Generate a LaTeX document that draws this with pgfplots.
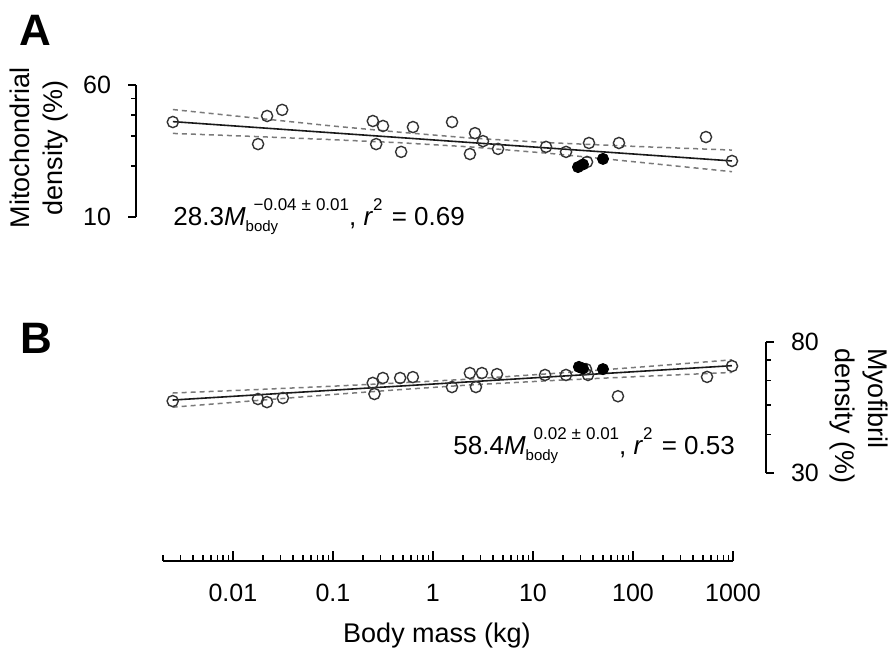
\documentclass[border=0pt]{standalone}
\usepackage{fontspec}
\setmainfont{Liberation Sans}
\usepackage{pgfplots}
\pgfplotsset{compat=1.18}

\definecolor{ptcol}{HTML}{333333}
\definecolor{bandcol}{HTML}{7A7A7A}

\newcommand{\sfs}{\fontsize{7.5}{8}\selectfont}
\newcommand{\supfs}{\fontsize{8.5}{9}\selectfont}
\newcommand{\tickfont}{\fontsize{12.5}{14}\selectfont}
\newcommand{\labfont}{\fontsize{13.5}{16.5}\selectfont}
% M_body with exponent, set by hand so that sub and sup stack as in the figure
\newcommand{\mbody}[1]{\textit{M}\rlap{\raisebox{-3pt}{\sfs body}}\hspace{4pt}\raisebox{7.5pt}{\supfs #1}}

\pgfplotsset{
  fitline/.style={black!90, line width=0.8pt, no marks},
  ciline/.style={bandcol, line width=0.75pt, dash pattern=on 2.5pt off 2pt, no marks},
  openpts/.style={only marks, mark=o, mark size=2.8pt, mark options={draw=ptcol, line width=0.7pt}},
  fillpts/.style={only marks, mark=*, mark size=2.8pt, mark options={draw=black, fill=black}},
}

\begin{document}
\begin{tikzpicture}
\useasboundingbox (0,0) rectangle (445pt,326.5pt);

% panel A: mitochondrial density
\begin{axis}[scale only axis, xmode=log, ymode=log, clip=false,
  at={(68pt,218pt)}, anchor=south west,
  width=298.5pt, height=66pt,
  xmin=0.00107, xmax=1000, ymin=10, ymax=60,
  axis x line=none, axis y line*=left,
  axis line style={-, line width=0.8pt, black},
  tick align=outside, major tick length=4pt, minor tick length=2.5pt,
  tick style={black, line width=0.8pt},
  ytick={10,60}, yticklabels={10,60}, minor ytick={20,30,40,50},
  yticklabel style={xshift=-5pt, font=\tickfont},
  ylabel={Mitochondrial\\density (\%)},
  ylabel style={align=center, font=\labfont, at={(axis description cs:-0.1616,0.523)}, anchor=center},
]
\addplot[ciline] coordinates {(0.0025,43.0) (0.0148,38.6) (0.0933,34.5) (0.468,31.6) (2.34,29.2) (14.8,27.4) (117,26.0) (977,24.8)};
\addplot[ciline] coordinates {(0.0025,31.1) (0.0148,29.9) (0.0933,28.6) (0.468,27.4) (2.34,25.9) (14.8,23.7) (117,21.0) (977,18.5)};
\addplot[fitline] coordinates {(0.0025,36.5) (977,21.4)};
\addplot[openpts] coordinates {
  (0.0025,36.3) (0.0178,26.9) (0.0219,39.4) (0.031,42.8) (0.25,36.8)
  (0.27,26.9) (0.316,34.4) (0.48,24.2) (0.63,33.9) (1.55,36.3)
  (2.34,23.5) (2.63,31.2) (3.16,28.0) (4.47,25.2) (13.5,25.9)
  (21.4,24.2) (34.7,21.1) (36.3,27.3) (72.4,27.3) (537,29.6) (977,21.4)};
\addplot[fillpts] coordinates {(28.2,19.7) (31.6,20.4) (50.1,22.0)};
\end{axis}

% panel B: myofibril density
\begin{axis}[scale only axis, xmode=log, ymode=log, clip=false,
  at={(81.5pt,90pt)}, anchor=south west,
  width=301.5pt, height=65.5pt,
  xmin=0.002, xmax=2138, ymin=30, ymax=80,
  axis x line=none, axis y line*=right,
  axis line style={-, line width=0.8pt, black},
  tick align=outside, major tick length=4pt, minor tick length=2.5pt,
  tick style={black, line width=0.8pt},
  ytick={30,80}, yticklabels={30,80}, minor ytick={40,50,60,70},
  yticklabel style={xshift=5pt, font=\tickfont},
  ylabel={Myofibril\\density (\%)},
  ylabel style={align=left, font=\labfont, rotate=180, at={(axis description cs:1.1534,1.008)}, anchor=west},
]
\addplot[ciline] coordinates {(0.0025,54.6) (0.0148,55.9) (0.0933,57.4) (0.468,58.9) (2.34,60.6) (14.8,63.1) (117,66.3) (977,70.0)};
\addplot[ciline] coordinates {(0.0025,49.1) (0.0148,51.4) (0.0933,53.9) (0.468,56.0) (2.34,58.0) (14.8,59.9) (117,61.8) (977,63.7)};
\addplot[fitline] coordinates {(0.0025,51.8) (977,67.0)};
\addplot[openpts] coordinates {
  (0.0025,51.4) (0.0178,52.2) (0.0219,51.0) (0.0316,52.6) (0.25,58.9)
  (0.26,54.2) (0.316,61.1) (0.47,61.1) (0.63,61.5) (1.55,57.1)
  (2.34,63.4) (2.69,57.1) (3.09,63.4) (4.37,62.9) (13.2,62.5)
  (21.4,62.5) (33.9,65.3) (35.5,62.5) (70.8,53.3) (550,61.6) (977,66.8)};
\addplot[fillpts] coordinates {(28.8,66.4) (31.6,65.6) (50.1,65.3)};
\end{axis}

% shared body-mass axis
\begin{axis}[scale only axis, at={(81.5pt,46pt)}, anchor=south west,
  width=285pt, height=10pt,
  xmode=log, xmin=0.002, xmax=1000, ymin=0, ymax=1,
  axis x line*=bottom, axis y line=none,
  axis line style={-, line width=0.8pt, black},
  tick align=inside, major tick length=5pt, minor tick length=2.8pt,
  tick style={black, line width=0.8pt},
  xtick={0.01,0.1,1,10,100,1000}, xticklabels={0.01,0.1,1,10,100,1000},
  minor xtick={0.002,0.003,0.004,0.005,0.006,0.007,0.008,0.009,
    0.02,0.03,0.04,0.05,0.06,0.07,0.08,0.09,
    0.2,0.3,0.4,0.5,0.6,0.7,0.8,0.9,
    2,3,4,5,6,7,8,9,20,30,40,50,60,70,80,90,
    200,300,400,500,600,700,800,900},
  xticklabel style={anchor=base, yshift=-20.5pt, font=\tickfont},
  xlabel={Body mass (kg)},
  xlabel style={at={(axis description cs:0.4807,0)}, anchor=base, yshift=-41pt, font=\labfont},
]
\addplot[draw=none] coordinates {(1,0.5)};
\end{axis}

\node[font=\bfseries\fontsize{22}{24}\selectfont] at (17.5pt,311.5pt) {A};
\node[font=\bfseries\fontsize{22}{24}\selectfont] at (18pt,157.5pt) {B};

\node[anchor=base west, inner sep=0pt, font=\fontsize{13}{15}\selectfont] at (86.5pt,213.5pt)
  {28.3\mbody{−0.04\hspace{2.5pt}±\hspace{2.5pt}0.01}, \textit{r}\raisebox{7.5pt}{\supfs 2}\hspace{1pt} = 0.69};
\node[anchor=base west, inner sep=0pt, font=\fontsize{13}{15}\selectfont] at (226.5pt,99pt)
  {58.4\mbody{0.02\hspace{2.5pt}±\hspace{2.5pt}0.01}, \textit{r}\raisebox{7.5pt}{\supfs 2}\hspace{1pt} = 0.53};
\end{tikzpicture}
\end{document}
